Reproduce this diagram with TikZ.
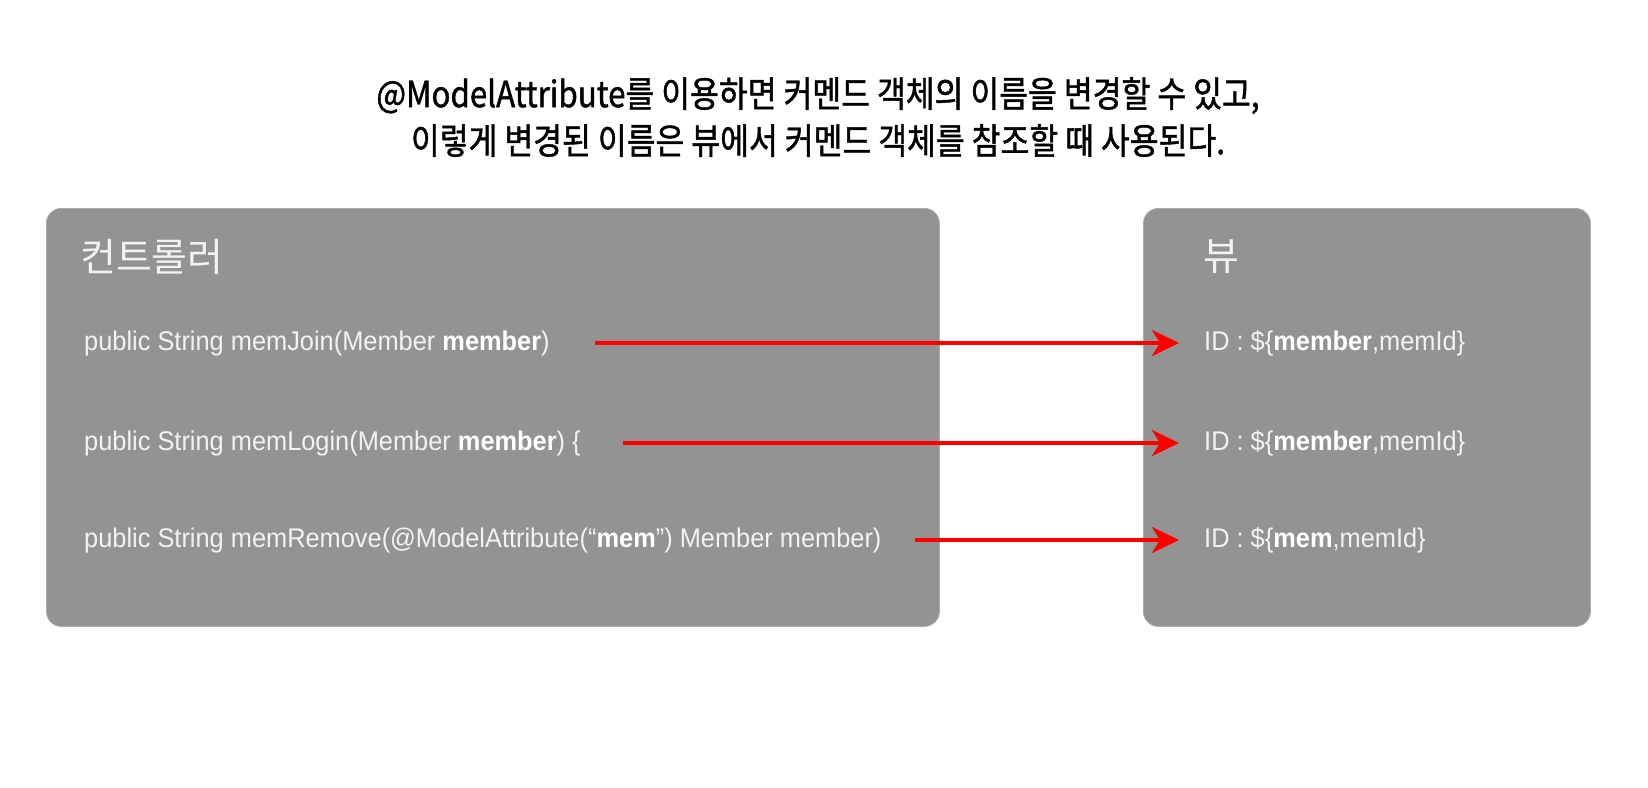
\documentclass[tikz,border=0pt]{standalone}
\usepackage{fontspec}
\usetikzlibrary{arrows.meta}
\newfontfamily\kr{Noto Sans CJK KR}
\newfontfamily\krtitle[FakeStretch=0.87,FakeBold=1.2]{Noto Sans CJK KR}
\newfontfamily\code[FakeStretch=0.94]{Liberation Sans}
\definecolor{boxgray}{HTML}{939393}
\definecolor{boxedge}{HTML}{ABABAB}
\definecolor{txt}{HTML}{F2F2F2}
\tikzset{
  panel/.style={draw=boxedge, line width=0.8pt, fill=boxgray, rounded corners=15pt, anchor=north west, inner sep=0pt},
  head/.style={anchor=west, inner sep=0pt, text=txt, font=\kr\fontsize{39}{44}\selectfont},
  codeline/.style={anchor=west, inner sep=0pt, text=txt, text height=20pt, text depth=6pt, font=\code\fontsize{27}{32}\selectfont},
  arr/.style={draw=red, line width=4pt, -{Stealth[length=27pt,width=26pt,inset=8pt]}},
  title/.style={align=center, inner sep=0pt, font=\krtitle\fontsize{36}{47}\selectfont}
}
\newcommand{\bw}[1]{\textcolor{white}{\bfseries #1}}
\begin{document}
\begin{tikzpicture}[x=1pt,y=-1pt]
\useasboundingbox (0,0) rectangle (1648,787);
\node[title] (t) at (818,117) {@ModelAttribute를 이용하면 커멘드 객체의 이름을 변경할 수 있고,\\이렇게 변경된 이름은 뷰에서 커멘드 객체를 참조할 때 사용된다.};
\node[panel, minimum width=893pt, minimum height=418pt] (ctrl) at (46,208) {};
\node[panel, minimum width=447pt, minimum height=418pt] (view) at (1143,208) {};
\node[head] (hc) at (80,257) {컨트롤러};
\node[head] (hv) at (1203,257) {뷰};
\node[codeline] (c1) at (84,343) {public String memJoin(Member \bw{member})};
\node[codeline] (c2) at (84,443) {public String memLogin(Member \bw{member}) \{};
\node[codeline] (c3) at (84,540) {public String memRemove(@ModelAttribute(“\bw{mem}”) Member member)};
\node[codeline] (v1) at (1204,343) {ID : \$\{\bw{member},memId\}};
\node[codeline] (v2) at (1204,443) {ID : \$\{\bw{member},memId\}};
\node[codeline] (v3) at (1204,540) {ID : \$\{\bw{mem},memId\}};
\draw[arr, shorten <=45pt, shorten >=25pt] (c1.east) -- (v1.west);
\draw[arr, shorten <=42pt, shorten >=25pt] (c2.east) -- (v2.west);
\draw[arr, shorten <=33pt, shorten >=25pt] (c3.east) -- (v3.west);
\end{tikzpicture}
\end{document}
